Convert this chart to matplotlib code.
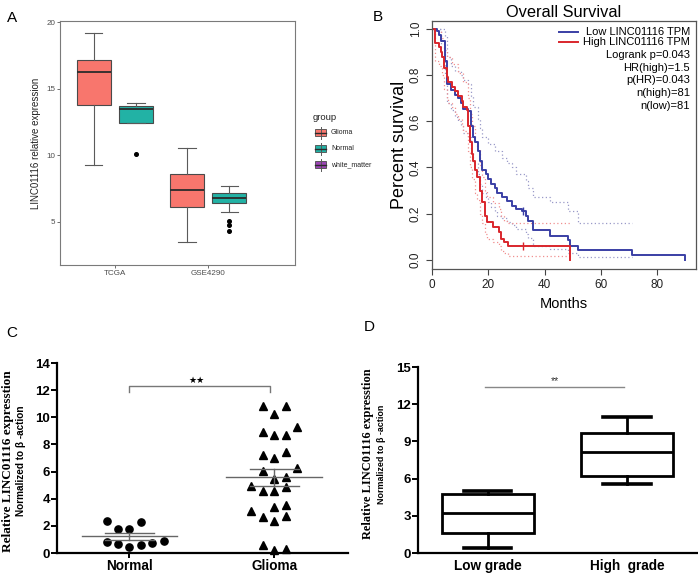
import numpy as np
import matplotlib
matplotlib.use('Agg')
import matplotlib.pyplot as plt
from matplotlib.patches import Rectangle

plt.rcParams['font.family'] = ['Liberation Sans', 'DejaVu Sans']

W, H = 698, 575

# ---------------- data ----------------
# A: boxplots (whislo, q1, med, q3, whishi)
datasets = ['TCGA', 'GSE4290']
groups = ['Glioma', 'Normal', 'white_matter']
group_colors = ['#F8766D', '#22B2A5', '#9B45B5']
glioma_stats = [(9.25, 13.8, 16.25, 17.2, 19.2), (3.5, 6.1, 7.4, 8.6, 10.55)]
glioma_fliers = [[], []]
normal_stats = [(12.4, 12.4, 13.5, 13.7, 13.9), (5.75, 6.4, 6.8, 7.2, 7.7)]
normal_fliers = [[10.1], [5.05, 4.75, 4.3]]

# B: Kaplan-Meier steps (months, survival)
low_t = [0, 1.6, 2.4, 3.2, 4.4, 5.3, 6.5, 8.0, 9.0, 10.2, 11.0, 12.6, 13.8, 14.6, 15.4,
         16.2, 17.0, 17.6, 19.0, 20.0, 21.0, 22.3, 23.0, 24.8, 26.5, 28.3, 30.0, 32.0,
         33.4, 34.2, 36.0, 42.0, 48.5, 49.2, 52.0, 71.1, 90.1]
low_s = [1.0, 0.99, 0.975, 0.95, 0.86, 0.76, 0.735, 0.715, 0.70, 0.68, 0.655, 0.645, 0.58,
         0.53, 0.51, 0.47, 0.43, 0.39, 0.37, 0.35, 0.33, 0.31, 0.29, 0.27, 0.255, 0.235,
         0.22, 0.21, 0.19, 0.17, 0.13, 0.105, 0.085, 0.06, 0.042, 0.022, 0.0]
high_t = [0, 1.0, 2.4, 3.0, 3.6, 4.2, 5.1, 5.7, 6.9, 8.1, 9.3, 10.5, 11.1, 12.3, 12.9,
          13.4, 14.0, 14.6, 15.2, 15.8, 17.0, 17.6, 18.8, 19.4, 21.8, 23.9, 24.6, 25.5,
          27.1, 49.2]
high_s = [1.0, 0.94, 0.92, 0.90, 0.88, 0.83, 0.79, 0.77, 0.75, 0.73, 0.71, 0.69, 0.66,
          0.65, 0.58, 0.51, 0.46, 0.43, 0.39, 0.36, 0.30, 0.25, 0.19, 0.165, 0.14, 0.12,
          0.09, 0.075, 0.06, 0.0]
low_up_t = [0, 4.4, 5.3, 6.5, 8.0, 10.2, 11.0, 12.6, 13.8, 14.6, 16.2, 17.0, 17.6, 20.0,
            22.3, 24.8, 26.5, 28.3, 30.0, 33.4, 34.2, 36.0, 42.0, 48.5, 52.0, 71.1]
low_up_s = [1.0, 0.97, 0.88, 0.84, 0.82, 0.80, 0.78, 0.76, 0.71, 0.66, 0.61, 0.57, 0.53,
            0.50, 0.47, 0.44, 0.42, 0.40, 0.37, 0.34, 0.31, 0.27, 0.25, 0.21, 0.16, 0.16]
low_lo_t = [0, 3.2, 4.4, 5.3, 6.5, 8.0, 9.0, 10.2, 11.0, 12.6, 13.8, 14.6, 16.2, 17.0,
            17.6, 19.0, 20.0, 21.0, 22.3, 23.0, 24.8, 26.5, 28.3, 30.0, 33.4, 34.2, 36.0,
            42.0, 48.5, 52.0, 71.1]
low_lo_s = [1.0, 0.92, 0.80, 0.68, 0.65, 0.62, 0.60, 0.58, 0.55, 0.53, 0.47, 0.42, 0.37,
            0.33, 0.29, 0.27, 0.25, 0.23, 0.21, 0.19, 0.18, 0.165, 0.15, 0.135, 0.11,
            0.095, 0.06, 0.045, 0.03, 0.01, 0.01]
high_up_t = [0, 1.0, 3.0, 4.2, 5.1, 6.9, 9.3, 11.1, 12.9, 13.4, 14.0, 15.2, 15.8, 17.0,
             17.6, 18.8, 19.4, 21.8, 23.9, 24.6, 25.5, 27.1, 49.2]
high_up_s = [1.0, 0.99, 0.96, 0.91, 0.88, 0.85, 0.81, 0.77, 0.70, 0.63, 0.58, 0.51, 0.48,
             0.41, 0.36, 0.30, 0.27, 0.245, 0.22, 0.19, 0.17, 0.16, 0.16]
high_lo_t = [0, 1.0, 2.4, 3.6, 4.2, 5.1, 5.7, 6.9, 8.1, 9.3, 10.5, 11.1, 12.3, 12.9, 13.4,
             14.0, 15.2, 15.8, 17.0, 17.6, 18.8, 19.4, 21.8, 23.9, 24.6, 25.5, 27.1, 49.2]
high_lo_s = [1.0, 0.86, 0.84, 0.80, 0.74, 0.70, 0.68, 0.66, 0.63, 0.61, 0.59, 0.56, 0.55,
             0.47, 0.40, 0.35, 0.29, 0.26, 0.20, 0.16, 0.11, 0.09, 0.075, 0.06, 0.04, 0.03,
             0.015, 0.015]
low_censor = ([32.4], [0.21])
high_censor = ([32.4], [0.06])
km_labels = ['Low LINC01116 TPM', 'High LINC01116 TPM']
km_stats = ['Logrank p=0.043', 'HR(high)=1.5', 'p(HR)=0.043', 'n(high)=81', 'n(low)=81']

# C: scatter of qPCR values
c_groups = ['Normal', 'Glioma']
normal_vals = [2.37, 2.27, 1.76, 1.76, 0.78, 0.66, 0.42, 0.59, 0.73, 0.88]
normal_slot = [-2, 1, -1, 0, -2, -1, 0, 1, 2, 3]
glioma_vals = [10.81, 10.86, 10.22, 9.29, 8.95, 8.66, 8.70, 7.24, 7.41, 6.97, 6.26, 6.04,
               5.45, 5.60, 4.91, 4.60, 4.60, 4.84, 3.13, 3.40, 3.55, 2.64, 2.37, 2.74,
               0.61, 0.24, 0.29]
glioma_slot = [-1, 1, 0, 2, -1, 0, 1, -1, 1, 0, 2, -1, 0, 1, -2, -1, 0, 1, -2, 0, 1, -1,
               0, 1, -1, 0, 1]

# D: grade boxplots (whislo, q1, med, q3, whishi)
d_groups = ['Low grade', 'High  grade']
d_stats = [(0.38, 1.59, 3.25, 4.76, 5.0), (5.59, 6.24, 8.17, 9.65, 10.94)]


def frac(x0, y_top, x1, y_bot):
    return [x0 / W, 1 - y_bot / H, (x1 - x0) / W, (y_bot - y_top) / H]


fig = plt.figure(figsize=(W / 100, H / 100), dpi=100)

# ---------------- Panel A ----------------
axA = fig.add_axes(frac(60, 21, 295, 265))
pos = np.arange(1, len(datasets) + 1)
dodge, box_w = 0.226, 0.366
for stats, fl, off, col in [(glioma_stats, glioma_fliers, -dodge, group_colors[0]),
                            (normal_stats, normal_fliers, dodge, group_colors[1])]:
    bs = [dict(whislo=s[0], q1=s[1], med=s[2], q3=s[3], whishi=s[4], fliers=f)
          for s, f in zip(stats, fl)]
    axA.bxp(bs, positions=pos + off, widths=box_w, capwidths=box_w / 2, patch_artist=True,
            manage_ticks=False,
            boxprops=dict(facecolor=col, edgecolor='#4a4a4a', linewidth=0.8),
            medianprops=dict(color='#2b2b2b', linewidth=1.3),
            whiskerprops=dict(color='#5a5a5a', linewidth=0.8),
            capprops=dict(color='#5a5a5a', linewidth=0.8),
            flierprops=dict(marker='o', markerfacecolor='black', markeredgecolor='black',
                            markersize=2.6))
axA.set_xlim(0.409, 2.935)
axA.set_ylim(1.75, 20.1)
axA.set_yticks([5, 10, 15, 20])
axA.set_xticks(pos)
axA.set_xticklabels(datasets)
axA.tick_params(labelsize=5.8, labelcolor='#4d4d4d', color='#555555', length=2, width=0.6,
                pad=1.5)
for s in axA.spines.values():
    s.set_color('#7a7a7a')
    s.set_linewidth(0.8)
axA.set_ylabel('LINC01116 relative expression', fontsize=7, color='#222222', labelpad=4)

# legend for A, drawn in pixel coordinates
lax = fig.add_axes(frac(300, 100, 380, 180))
lax.set_xlim(300, 380)
lax.set_ylim(180, 100)
lax.axis('off')
lax.text(313, 117, 'group', fontsize=6.8, va='center', ha='left', color='#222222')
for i, (g, c) in enumerate(zip(groups, group_colors)):
    yc = 132.5 + 16 * i
    lax.plot([320.5, 320.5], [yc - 6, yc + 6], color='#5a5a5a', lw=0.7)
    lax.add_patch(Rectangle((315, yc - 3.5), 11, 7, facecolor=c, edgecolor='#4a4a4a', lw=0.6))
    lax.plot([315, 326], [yc, yc], color='#2b2b2b', lw=1.0)
    lax.text(331, yc, g, fontsize=5, va='center', ha='left', color='#222222')

# ---------------- Panel B ----------------
blue, red = '#3a3fa5', '#d9262c'
axB = fig.add_axes(frac(432, 20.7, 696, 269))
for t, s in [(low_up_t, low_up_s), (low_lo_t, low_lo_s)]:
    axB.step(t, s, where='post', color='#9a9ac8', lw=0.9, ls=(0, (1, 2)))
for t, s in [(high_up_t, high_up_s), (high_lo_t, high_lo_s)]:
    axB.step(t, s, where='post', color='#f09090', lw=0.9, ls=(0, (1, 2)))
axB.step(low_t, low_s, where='post', color=blue, lw=1.4)
axB.step(high_t, high_s, where='post', color=red, lw=1.4)
axB.plot(*low_censor, ls='none', marker='|', color=blue, ms=6, mew=1)
axB.plot(*high_censor, ls='none', marker='|', color=red, ms=6, mew=1)
axB.set_xlim(-0.1, 94)
axB.set_ylim(-0.04, 1.036)
axB.set_xticks([0, 20, 40, 60, 80])
axB.set_yticks([0, 0.2, 0.4, 0.6, 0.8, 1.0])
axB.set_yticklabels([f'{v:.1f}' for v in axB.get_yticks()], rotation=90, va='center')
axB.tick_params(labelsize=8.5, length=4.3, width=0.8, color='#444444', labelcolor='#222222',
                pad=3)
for s in axB.spines.values():
    s.set_color('#555555')
    s.set_linewidth(0.9)
axB.set_xlabel('Months', fontsize=10.5, labelpad=4)
axB.set_ylabel('Percent survival', fontsize=13, labelpad=1)
axB.set_title('Overall Survival', fontsize=11.8, pad=3)

tr = axB.transAxes
rx = 0.977
rows_y = [0.954, 0.914, 0.862, 0.81, 0.761, 0.709, 0.656]
for lab, col, y in zip(km_labels, [blue, red], rows_y[:2]):
    axB.plot([0.481, 0.553], [y, y], color=col, lw=1.4, transform=tr)
    axB.text(rx, y, lab, transform=tr, ha='right', va='center', fontsize=8)
for lab, y in zip(km_stats, rows_y[2:]):
    axB.text(rx, y, lab, transform=tr, ha='right', va='center', fontsize=8)

# ---------------- Panel C ----------------
axC = fig.add_axes(frac(57, 363, 348, 553))
slot_w = 0.079
xc = np.arange(1, len(c_groups) + 1)
axC.plot(xc[0] + np.array(normal_slot) * slot_w, normal_vals, 'o', color='black', ms=5.2,
         clip_on=False)
axC.plot(xc[1] + np.array(glioma_slot) * slot_w, glioma_vals, '^', color='black', ms=5.6,
         clip_on=False)
for x, vals in zip(xc, [normal_vals, glioma_vals]):
    v = np.array(vals)
    m = v.mean()
    se = v.std(ddof=1) / np.sqrt(len(v))
    axC.plot([x - 0.33, x + 0.33], [m, m], color='#666666', lw=1.0)
    axC.plot([x - 0.17, x + 0.17], [m + se, m + se], color='#666666', lw=1.0)
    axC.plot([x - 0.17, x + 0.17], [m - se, m - se], color='#666666', lw=1.0)
    axC.plot([x, x], [m - se, m + se], color='#666666', lw=1.0)
axC.plot([1.0, 1.0, 1.97, 1.97], [11.9, 12.3, 12.3, 11.9], color='#777777', lw=1.0)
axC.text(1.467, 12.4, '\u2605\u2605', fontsize=6.5, ha='center', va='bottom',
         family='DejaVu Sans')
axC.set_xlim(0.5, 2.51)
axC.set_ylim(0, 14)
axC.set_yticks(range(0, 15, 2))
axC.set_xticks(xc)
axC.set_xticklabels(c_groups, fontsize=9.8, fontweight='bold')
for s in ['top', 'right']:
    axC.spines[s].set_visible(False)
for s in ['left', 'bottom']:
    axC.spines[s].set_linewidth(1.6)
axC.tick_params(axis='y', labelsize=9.5, length=4, width=1.4, pad=1)
axC.tick_params(axis='x', length=3.5, width=1.4, pad=0.5)
for lb in axC.get_yticklabels():
    lb.set_fontweight('bold')

fig.text(8 / W, 1 - 461 / H, 'Relative LINC01116 expresstion', rotation=90, ha='center',
         va='center', fontsize=9.5, fontweight='bold', family='Liberation Serif')
fig.text(21 / W, 1 - 461 / H, 'Normalized to \u03b2 -action', rotation=90, ha='center',
         va='center', fontsize=7.2, fontweight='bold')

# ---------------- Panel D ----------------
axD = fig.add_axes(frac(418, 367, 698, 553))
bs = [dict(whislo=s[0], q1=s[1], med=s[2], q3=s[3], whishi=s[4], fliers=[]) for s in d_stats]
xd = np.arange(1, len(d_groups) + 1)
lw = 2.0
axD.bxp(bs, positions=xd, widths=0.66, capwidths=0.34, patch_artist=True, manage_ticks=False,
        boxprops=dict(facecolor='white', edgecolor='black', linewidth=lw),
        medianprops=dict(color='black', linewidth=lw),
        whiskerprops=dict(color='black', linewidth=lw),
        capprops=dict(color='black', linewidth=lw + 0.6))
axD.plot([0.98, 1.98], [13.4, 13.4], color='#888888', lw=1.0)
axD.text(1.48, 13.5, '**', fontsize=7.5, ha='center', va='bottom', color='#333333')
axD.set_xlim(0.5, 2.51)
axD.set_ylim(0, 15)
axD.set_yticks(range(0, 16, 3))
axD.set_xticks(xd)
axD.set_xticklabels(d_groups, fontsize=9.8, fontweight='bold')
for s in ['top', 'right']:
    axD.spines[s].set_visible(False)
for s in ['left', 'bottom']:
    axD.spines[s].set_linewidth(1.6)
axD.tick_params(axis='y', labelsize=9.5, length=4, width=1.4, pad=1)
axD.tick_params(axis='x', length=0, pad=4)
for lb in axD.get_yticklabels():
    lb.set_fontweight('bold')

fig.text(368 / W, 1 - 454 / H, 'Relative LINC01116 expresstion', rotation=90, ha='center',
         va='center', fontsize=8.9, fontweight='bold', family='Liberation Serif')
fig.text(382 / W, 1 - 454 / H, 'Normalized to \u03b2 -action', rotation=90, ha='center',
         va='center', fontsize=6.4, fontweight='bold')

# ---------------- panel letters ----------------
for lab, x, y in [('A', 12, 18), ('B', 378, 17), ('C', 12, 333), ('D', 369, 327)]:
    fig.text(x / W, 1 - y / H, lab, fontsize=11, ha='center', va='center')

fig.savefig('out.png', dpi=100)
